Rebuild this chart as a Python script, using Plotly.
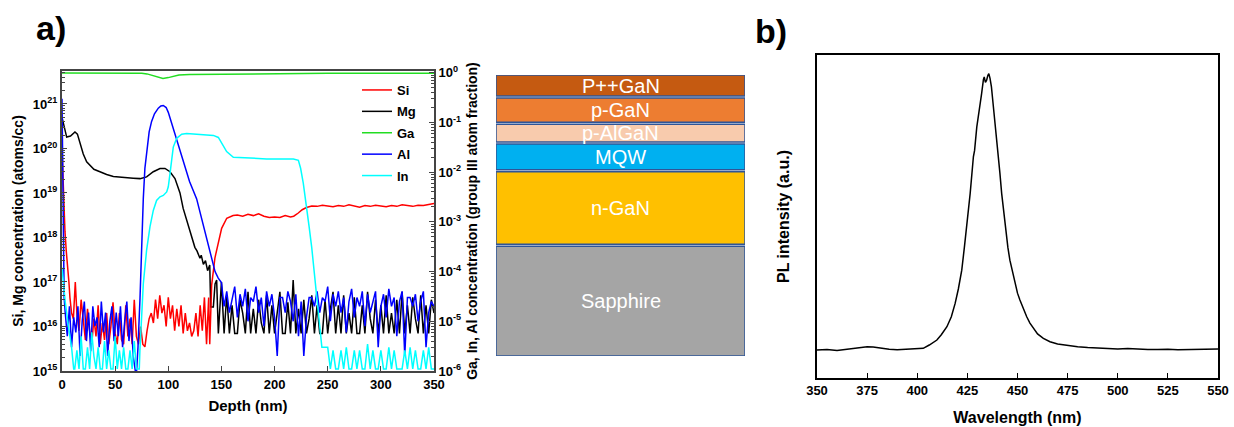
import numpy as np
import plotly.graph_objects as go

# ---------------- SIMS depth profile (panel a) ----------------
si_depth = ([0, 1, 2, 2.8, 4, 5.3, 6.5, 7.5, 9, 10.7, 12.5] + list(range(14, 139, 2))
            + [139, 140.8, 143.9, 147, 150.2, 155, 161] + list(range(165, 216, 5))
            + [218, 222, 226, 230, 235] + list(range(240, 351, 5)))
si_vals = ([1e20, 2e19, 4e18, 1.35e18, 5e17, 2.4e17, 1e17, 4.4e16, 2e16, 1.5e16, 1e17]
           + [2e16, 8e15, 4e16, 1.2e16, 5e15, 2.5e16, 8e15, 4e15, 1.5e16, 6e15,
              3e16, 4e15, 1.2e16, 5e15, 2e16, 4e15, 1e16, 3.5e16, 7e15, 4e15,
              2e16, 5e15, 4e15, 3e16, 6e15, 1.5e16, 4e15, 4e16, 6e15, 4e15,
              1e16, 4e15, 3.5e15, 8e15, 1.5e16, 2e16, 1.2e16, 4e16, 1.5e16, 5e16,
              2e16, 3e16, 1e16, 4.5e16, 1.5e16, 3e16, 8e15, 2.5e16, 1e16, 3e16,
              7e15, 2e16, 8e15, 1.2e16, 6e15, 8e15, 2e16, 6e15, 3e16, 8e15,
              4.5e16, 4e15, 4.5e16]
           + [4e15, 8.5e16, 3.5e17, 8e17, 1.6e18, 2.7e18, 3.1e18]
           + [3.2e18, 3.0e18, 3.3e18, 3.1e18, 3.4e18, 3.0e18, 2.8e18, 2.9e18, 2.8e18, 3.1e18, 2.9e18]
           + [3.0e18, 3.5e18, 4.2e18, 4.7e18, 5.1e18]
           + [5.0e18, 5.3e18, 5.1e18, 4.9e18, 5.2e18, 5.0e18, 5.4e18, 5.1e18, 4.8e18, 5.2e18,
              5.0e18, 5.3e18, 5.1e18, 4.9e18, 5.2e18, 5.0e18, 5.4e18, 5.1e18, 5.0e18, 5.3e18,
              5.2e18, 5.5e18, 5.8e18])

mg_depth = ([0, 2, 4.4, 8, 12.2, 14.5, 16.9, 20, 23.2, 26.3, 30, 35.7, 42, 48.3, 55, 60.8, 67,
             73.4, 79.6, 85.9, 92.2, 96.9, 101.6, 106.3, 111, 114, 117.3, 120, 123.5, 125, 127,
             129.8, 131, 133, 135, 137, 139, 139.9, 142.4, 144, 145.5, 147.1]
            + list(np.arange(150, 350.1, 2.5)))
mg_vals = ([5e20, 3e20, 1.8e20, 1.9e20, 2.35e20, 2.1e20, 1.3e20, 7.5e19, 5e19, 4.2e19, 3.4e19,
            3e19, 2.6e19, 2.35e19, 2.25e19, 2.2e19, 2.15e19, 2.1e19, 2.3e19, 3.0e19, 3.55e19,
            3.55e19, 3.0e19, 2.1e19, 1.0e19, 4.5e18, 2.5e18, 1.5e18, 8e17, 6e17, 5e17, 3.4e17,
            4e17, 2.5e17, 3e17, 1.8e17, 2.4e17, 2.75e16, 2.75e16, 9e16, 1.1e17, 7e15]
           + [1e17, 7e15, 5e16, 7e15, 3e16, 7e15, 7e15, 4e16, 2e16, 7e15,
              6e16, 7e15, 2.5e16, 7e15, 4e16, 1.2e16, 7e15, 5e16, 7e15, 3e16,
              7e15, 2e16, 6e16, 7e15, 7e15, 3.5e16, 7e15, 1.1e17, 7e15, 2.5e16,
              7e15, 4e16, 7e15, 1.5e16, 5e16, 7e15, 3e16, 7e15, 7e15, 4e16,
              7e15, 2.5e16, 6e16, 7e15, 3e16, 7e15, 5e16, 7e15, 2e16, 7e15,
              4.5e16, 7e15, 7e15, 3e16, 7e15, 6e16, 1.5e16, 7e15, 4e16, 7e15,
              3e16, 7e15, 5e16, 7e15, 2e16, 7e15, 4e16, 7e15, 6e16, 7e15,
              3e16, 7e15, 4.5e16, 1.5e16, 7e15, 5e16, 7e15, 3e16, 7e15, 4e16,
              2e16])

ga_depth = [0, 20, 40, 60, 75, 80, 85, 90, 95, 100, 105, 110, 120, 140, 160, 180, 200, 250, 300, 350]
ga_vals = [0.99, 0.99, 0.99, 0.99, 0.98, 0.95, 0.88, 0.81, 0.77, 0.80, 0.86, 0.90, 0.92, 0.93,
           0.94, 0.95, 0.97, 0.98, 0.98, 0.98]

al_depth = ([0, 1, 2] + list(range(3, 70, 2))
            + [70.2, 71.5, 73.4, 75, 76.5, 78, 79.6, 82, 84.3, 87, 90.6, 93, 95.3, 98, 100, 103,
               105, 108, 111, 115, 120, 126.7, 132.9, 139.2, 144, 147]
            + list(np.arange(150, 350.1, 2.5)))
al_vals = ([0.3, 1e-3, 3e-5]
           + [1.5e-5, 5e-6, 2e-5, 3e-6, 1.2e-5, 6e-6, 2e-5, 2e-6, 1e-5, 2.5e-5,
              4e-6, 1.5e-5, 2.5e-6, 2e-5, 8e-6, 1.2e-5, 3e-6, 2.5e-5, 6e-6, 1.5e-5,
              2e-6, 1e-5, 2e-5, 4e-6, 1.5e-5, 5e-6, 2e-5, 3e-6, 1e-5, 2.5e-5,
              4e-6, 1.2e-5, 2e-6, 1e-6]
           + [1e-6, 3e-6, 2.9e-5, 5e-4, 3e-3, 1.2e-2, 0.027, 0.065, 0.105, 0.15, 0.194, 0.215,
              0.22, 0.2, 0.16, 0.1, 0.07, 0.045, 0.028, 0.014, 6.5e-3, 2.9e-3, 8.6e-4, 2.5e-4,
              1e-4, 7.4e-5]
           + [6e-5, 2e-5, 4e-5, 1.5e-5, 3e-5, 5e-5, 1.2e-5, 3.5e-5, 2e-5, 4.5e-5,
              1e-5, 3e-5, 2.5e-5, 5e-5, 1.5e-5, 3e-5, 8e-6, 4e-5, 2e-5, 3.5e-5,
              1.2e-5, 2e-6, 3e-5, 3e-5, 1.5e-5, 4e-5, 2.5e-5, 1e-5, 3.5e-5, 5e-6,
              2.5e-5, 2e-6, 1.2e-5, 3e-5, 3e-5, 2e-5, 4e-5, 1.5e-5, 3e-5, 2.5e-5,
              5e-5, 1e-5, 3.5e-5, 2e-5, 4e-5, 1.5e-5, 3e-5, 6e-6, 2.5e-5, 4.5e-5,
              1.2e-5, 3e-5, 2e-5, 4e-5, 8e-6, 3.5e-5, 1.5e-5, 2.5e-5, 4e-5, 3e-6,
              2e-5, 3.5e-5, 1.2e-5, 4.5e-5, 2e-5, 3e-5, 5e-6, 2.5e-5, 4e-5, 2e-6,
              3e-5, 3e-5, 2e-5, 3.5e-5, 1e-5, 2.5e-5, 4e-5, 3e-6, 1.5e-5, 2.5e-5,
              2e-5])

in_depth = ([0, 1.5, 3, 6, 9, 11] + list(range(12, 73, 2))
            + [72.7, 73.3, 74.9, 76.5, 79.6, 82.8, 85.9, 89, 92.2, 95.3, 98.5, 100, 101.6, 103.2,
               104.7, 107.9, 112.6, 117.3, 129.8, 142.4, 147.1, 150.2, 154.9, 161.2, 176.9,
               192.6, 208.3, 217.7, 222.4, 224.5, 227, 230, 232.5, 235, 238, 241, 243, 244.5]
            + list(np.arange(247.5, 350.1, 2.5)))
in_vals = ([1.2e-4, 5e-5, 2.5e-5, 8e-6, 3e-6, 1.1e-6]
           + [1.1e-6, 2.6e-6, 1.1e-6, 5e-6, 1.1e-6, 1.1e-6, 3e-6, 1.1e-6, 6e-6, 2e-6,
              1.1e-6, 3e-6, 1.1e-6, 1.1e-6, 4e-6, 1.1e-6, 2.6e-6, 1.1e-6, 1.1e-6, 5e-6,
              1.1e-6, 2.6e-6, 1.1e-6, 3e-6, 1.1e-6, 1.1e-6, 2.6e-6, 1.1e-6, 4e-6, 1.1e-6,
              1.1e-6]
           + [1.1e-6, 2.6e-6, 1.66e-5, 5.7e-5, 2.7e-4, 8e-4, 1.7e-3, 2.7e-3, 3.2e-3, 3.4e-3,
              4.0e-3, 5.1e-3, 9.4e-3, 2.0e-2, 3.2e-2, 4.8e-2, 5.8e-2, 6.0e-2, 5.8e-2, 5.5e-2,
              5.0e-2, 3.8e-2, 2.6e-2, 2.0e-2, 1.9e-2, 1.85e-2, 1.85e-2, 1.85e-2, 1.74e-2,
              1.2e-2, 6e-3, 2.2e-3, 8e-4, 3e-4, 6.3e-5, 1.5e-5, 5e-6, 3e-6]
           + [3e-6, 3e-6, 1.1e-6, 2.6e-6, 1.1e-6, 1.1e-6, 2.6e-6, 1.1e-6, 3e-6, 1.1e-6,
              1.1e-6, 2.6e-6, 1.1e-6, 2.6e-6, 1.1e-6, 1.1e-6, 3.5e-6, 1.1e-6, 2.6e-6, 1.1e-6,
              1.1e-6, 2.6e-6, 1.1e-6, 1.1e-6, 3e-6, 1.1e-6, 2.6e-6, 1.1e-6, 1.1e-6, 1.1e-6,
              2.6e-6, 1.1e-6, 3e-6, 1.1e-6, 2.6e-6, 1.1e-6, 1.1e-6, 2.6e-6, 1.1e-6, 3e-6,
              1.1e-6, 1.1e-6])

depth_ticks = [0, 50, 100, 150, 200, 250, 300, 350]
conc_exps = [15, 16, 17, 18, 19, 20, 21]
frac_exps = [-6, -5, -4, -3, -2, -1, 0]

# ---------------- layer stack ----------------
layer_names = ["Sapphire", "n-GaN", "MQW", "p-AlGaN", "p-GaN", "P++GaN"]
layer_thickness = [109.3, 72.3, 25.7, 17.7, 24.0, 21.0]
layer_colors = ["#A5A5A5", "#FFC000", "#00B0F0", "#F8CBAD", "#ED7D31", "#C55A11"]

# ---------------- PL spectrum (panel b) ----------------
pl_wl = [350, 355, 360, 365, 370, 375, 378, 382, 386, 390, 395, 400, 403, 406, 409.8, 412, 414.8,
         417, 418.9, 420.5, 422.2, 423.5, 424.7, 426.4, 428.0, 428.6, 429.7, 431.3, 432.1, 433.0,
         433.4, 434.0, 434.6, 435.2, 435.7, 436.3, 437.0, 437.8, 438.7, 439.5, 440.4, 441.2,
         442.1, 443.2, 444.2, 445.2, 446.2, 447.5, 448.7, 450, 451.2, 453, 454.6, 456.2, 457.9,
         460, 462.9, 466.2, 470, 475, 480, 485, 490, 495, 500, 505, 510, 515, 520, 525, 530,
         535, 540, 545, 550]
pl_int = [0.0, 0.002, -0.002, 0.003, 0.006, 0.012, 0.011, 0.006, 0.003, 0.001, 0.002, 0.003,
          0.006, 0.018, 0.036, 0.055, 0.084, 0.12, 0.168, 0.22, 0.288, 0.37, 0.444, 0.565, 0.697,
          0.72, 0.805, 0.877, 0.925, 0.975, 0.985, 0.965, 0.973, 0.99, 0.997, 0.98, 0.949, 0.89,
          0.829, 0.77, 0.709, 0.64, 0.565, 0.49, 0.42, 0.37, 0.324, 0.28, 0.24, 0.205, 0.18,
          0.145, 0.12, 0.097, 0.078, 0.058, 0.042, 0.030, 0.022, 0.016, 0.012, 0.009, 0.007,
          0.006, 0.004, 0.005, 0.003, 0.002, 0.002, 0.003, 0.001, 0.002, 0.002, 0.003, 0.004]
wl_ticks = [350, 375, 400, 425, 450, 475, 500, 525, 550]

# ---------------- figure ----------------
W, H = 1234, 427
FONT = "Arial, Liberation Sans, sans-serif"
def px_x(p): return p / W
def px_y(p): return (H - p) / H

fig = go.Figure()
line_w = 1.5
fig.add_trace(go.Scatter(x=mg_depth, y=mg_vals, name="Mg", mode="lines", legendrank=2,
                         legendgroup="Mg", line=dict(color="#000000", width=line_w),
                         xaxis="x", yaxis="y"))
fig.add_trace(go.Scatter(x=si_depth, y=si_vals, name="Si", mode="lines", legendrank=1,
                         legendgroup="Si", line=dict(color="#FF0000", width=line_w),
                         xaxis="x", yaxis="y"))
fig.add_trace(go.Scatter(x=al_depth, y=al_vals, name="Al", mode="lines", legendrank=4,
                         legendgroup="Al", line=dict(color="#0000FF", width=line_w),
                         xaxis="x", yaxis="y2"))
fig.add_trace(go.Scatter(x=in_depth, y=in_vals, name="In", mode="lines", legendrank=5,
                         legendgroup="In", line=dict(color="#00FFFF", width=line_w),
                         xaxis="x", yaxis="y2"))
fig.add_trace(go.Scatter(x=ga_depth, y=ga_vals, name="Ga", mode="lines", legendrank=3,
                         legendgroup="Ga", line=dict(color="#22DD22", width=line_w),
                         xaxis="x", yaxis="y2"))

# layer stack as stacked bars
gap = 2.0
bases = []
acc = 0.0
for t in layer_thickness:
    bases.append(acc)
    acc += t + gap
total = acc - gap
fig.add_trace(go.Bar(x=[0] * len(layer_names), y=layer_thickness, base=bases, width=1,
                     marker=dict(color=layer_colors, line=dict(color="#2F5597", width=1.5)),
                     showlegend=False, hoverinfo="skip", xaxis="x3", yaxis="y3"))
annotations = []
for name, b, t in zip(layer_names, bases, layer_thickness):
    annotations.append(dict(x=0, y=b + t / 2, xref="x3", yref="y3", text=name, showarrow=False,
                            xanchor="center", yanchor="middle",
                            font=dict(family=FONT, size=20, color="white")))

# PL spectrum
fig.add_trace(go.Scatter(x=pl_wl, y=pl_int, mode="lines", showlegend=False,
                         line=dict(color="#000000", width=1.5), xaxis="x4", yaxis="y4"))

# panel labels
annotations.append(dict(x=px_x(51), y=px_y(28), xref="paper", yref="paper", text="<b>a)</b>",
                        showarrow=False, xanchor="center", yanchor="middle",
                        font=dict(family=FONT, size=34, color="black")))
annotations.append(dict(x=px_x(771), y=px_y(31), xref="paper", yref="paper", text="<b>b)</b>",
                        showarrow=False, xanchor="center", yanchor="middle",
                        font=dict(family=FONT, size=34, color="black")))

tickf = dict(family=FONT, size=13, color="black", weight="bold")
titlef = dict(family=FONT, size=15, color="black", weight="bold")
frame = "#444444"

minor_conc = [k * 10.0 ** e for e in range(15, 22) for k in range(2, 10)]
minor_frac = [k * 10.0 ** e for e in range(-6, 0) for k in range(2, 10)]

fig.update_layout(
    width=W, height=H, margin=dict(l=0, r=0, t=0, b=0, pad=0, autoexpand=False), autosize=False,
    paper_bgcolor="white", plot_bgcolor="white", showlegend=True,
    annotations=annotations, barmode="overlay",
    legend=dict(x=px_x(357), y=px_y(75), xanchor="left", yanchor="top",
                bgcolor="rgba(0,0,0,0)", tracegroupgap=1.5,
                font=dict(family=FONT, size=13, color="black", weight="bold")),
    xaxis=dict(domain=[px_x(62), px_x(434)], anchor="y", range=[0, 350], automargin=False,
               tickmode="array", tickvals=depth_ticks, ticks="inside", ticklen=5,
               tickcolor=frame, showline=True, linecolor=frame, linewidth=2, mirror=True,
               showgrid=False, zeroline=False, tickfont=tickf,
               title=dict(text="Depth (nm)", font=titlef, standoff=10)),
    yaxis=dict(domain=[px_y(371), px_y(71)], anchor="x", type="log", range=[15, 21.74],
               automargin=False,
               tickmode="array", tickvals=[10.0 ** e for e in conc_exps],
               ticktext=["10<sup>%d</sup>" % e for e in conc_exps],
               ticks="inside", ticklen=5, tickcolor=frame, showline=True, linecolor=frame,
               linewidth=2, showgrid=False, zeroline=False, tickfont=tickf,
               minor=dict(tickmode="array", tickvals=minor_conc, ticks="inside", ticklen=3,
                          tickcolor=frame, showgrid=False),
               title=dict(text="Si, Mg concentration (atoms/cc)",
                          font=dict(family=FONT, size=14, color="black", weight="bold"), standoff=6)),
    yaxis2=dict(overlaying="y", side="right", anchor="x", type="log", range=[-6, 0.036],
                automargin=False,
                tickmode="array", tickvals=[10.0 ** e for e in frac_exps],
                ticktext=["10<sup>%d</sup>" % e for e in frac_exps],
                ticks="inside", ticklen=5, tickcolor=frame, showline=True, linecolor=frame,
                linewidth=2, showgrid=False, zeroline=False, tickfont=tickf,
                minor=dict(tickmode="array", tickvals=minor_frac, ticks="inside", ticklen=3,
                           tickcolor=frame, showgrid=False),
                title=dict(text="Ga, In, Al concentration (group III atom fraction)",
                           font=dict(family=FONT, size=14, color="black", weight="bold"), standoff=6)),
    xaxis3=dict(domain=[px_x(496), px_x(745)], anchor="y3", range=[-0.5, 0.5], visible=False),
    yaxis3=dict(domain=[px_y(356), px_y(75)], anchor="x3", range=[0, total], visible=False),
    xaxis4=dict(domain=[px_x(817), px_x(1218)], anchor="y4", range=[350, 550], automargin=False,
                tickmode="array", tickvals=wl_ticks, ticks="inside", ticklen=5,
                tickcolor="black", showline=True, linecolor="black", linewidth=1.5, mirror=True,
                showgrid=False, zeroline=False,
                tickfont=dict(family=FONT, size=13, color="black", weight="bold"),
                title=dict(text="Wavelength (nm)",
                           font=dict(family=FONT, size=16, color="black", weight="bold"), standoff=14)),
    yaxis4=dict(domain=[px_y(378), px_y(55)], anchor="x4", range=[-0.101, 1.064],
                automargin=False,
                showticklabels=False, ticks="", showline=True, linecolor="black", linewidth=1.5,
                mirror=True, showgrid=False, zeroline=False,
                title=dict(text="PL intensity (a.u.)",
                           font=dict(family=FONT, size=16, color="black", weight="bold"), standoff=22)),
)

fig.write_html("out.html", post_script="document.body.style.margin='0';")
